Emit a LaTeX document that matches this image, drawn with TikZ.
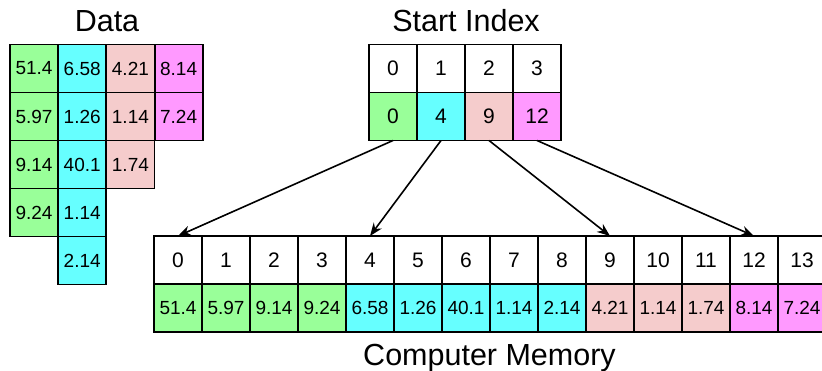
\documentclass[tikz,border=0pt]{standalone}
\usepackage{fontspec}
\setmainfont{Liberation Sans}
\usetikzlibrary{arrows.meta}
\definecolor{cgreen}{RGB}{153,255,153}
\definecolor{ccyan}{RGB}{102,255,255}
\definecolor{cpink}{RGB}{245,204,204}
\definecolor{cmag}{RGB}{255,153,255}
\tikzset{
  cell/.style={draw=black, line width=1.8pt, minimum width=48pt, minimum height=48pt,
               inner sep=0pt, outer sep=0pt, anchor=north west},
  idxcell/.style={cell, fill=white, font=\fontsize{21}{25}\selectfont},
  valcell/.style={cell, font=\fontsize{19}{23}\selectfont},
  title/.style={anchor=base, font=\fontsize{30.5}{36}\selectfont},
  ptr/.style={line width=1.6pt, -{Stealth[length=13pt,width=10pt]}}
}
\begin{document}
\begin{tikzpicture}[x=1pt,y=-1pt]
\useasboundingbox (0,0) rectangle (822,371);
\clip (0,0) rectangle (822,371);
% titles
\node[title] (tdata) at (107,32) {Data};
\node[title] (tstart) at (466,32) {Start Index};
\node[title] (tmem) at (489.5,365) {Computer Memory};
% data grid
\foreach \v [count=\r from 0] in {51.4,5.97,9.14,9.24}
  \node[valcell, fill=cgreen] (d0\r) at (10,{44.5+48*\r}) {\v};
\foreach \v [count=\r from 0] in {6.58,1.26,40.1,1.14,2.14}
  \node[valcell, fill=ccyan] (d1\r) at (58.2,{44.5+48*\r}) {\v};
\foreach \v [count=\r from 0] in {4.21,1.14,1.74}
  \node[valcell, fill=cpink] (d2\r) at (106.4,{44.5+48*\r}) {\v};
\foreach \v [count=\r from 0] in {8.14,7.24}
  \node[valcell, fill=cmag] (d3\r) at (154.6,{44.5+48*\r}) {\v};
% start index
\foreach \i in {0,...,3}
  \node[idxcell] (si\i) at ({369+48*\i},44.5) {\i};
\foreach \v/\c [count=\i from 0] in {0/cgreen,4/ccyan,9/cpink,12/cmag}
  \node[cell, fill=\c, font=\fontsize{21}{25}\selectfont] (sv\i) at ({369+48*\i},92.5) {\v};
% memory
\foreach \i in {0,...,13}
  \node[idxcell] (mi\i) at ({154+48*\i},236) {\i};
\foreach \v/\c [count=\i from 0] in {51.4/cgreen,5.97/cgreen,9.14/cgreen,9.24/cgreen,
   6.58/ccyan,1.26/ccyan,40.1/ccyan,1.14/ccyan,2.14/ccyan,
   4.21/cpink,1.14/cpink,1.74/cpink,8.14/cmag,7.24/cmag}
  \node[valcell, fill=\c] (mv\i) at ({154+48*\i},284) {\v};
% pointers
\draw[ptr] (sv0.south) -- (mi0.north);
\draw[ptr] (sv1.south) -- (mi4.north);
\draw[ptr] (sv2.south) -- (mi9.north);
\draw[ptr] (sv3.south) -- (mi12.north);
\end{tikzpicture}
\end{document}
